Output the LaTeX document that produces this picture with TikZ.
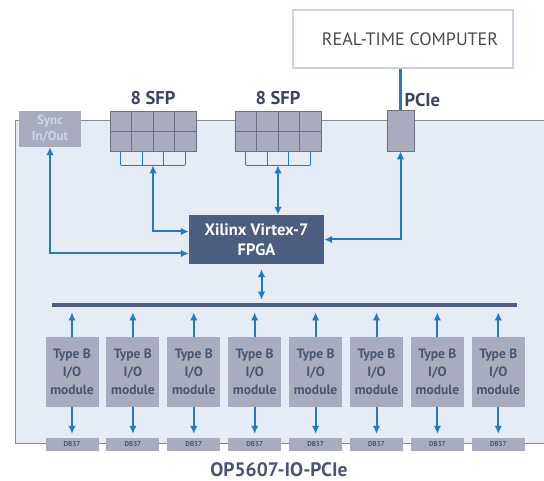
\documentclass[tikz,border=0pt]{standalone}
\usepackage{fontspec}
\setmainfont{PT Sans}
\usetikzlibrary{positioning,arrows.meta,calc}

\definecolor{boardfill}{HTML}{E6ECF5}
\definecolor{boardline}{HTML}{858A94}
\definecolor{modfill}{HTML}{A9ACBE}
\definecolor{modedge}{HTML}{6E7080}
\definecolor{modtext}{HTML}{4A5572}
\definecolor{fpgafill}{HTML}{4B5E80}
\definecolor{linkblue}{HTML}{1F7BC2}
\definecolor{pcframe}{HTML}{C8D4E6}
\definecolor{synctext}{HTML}{CDD4EC}

\tikzset{
  link/.style={linkblue, line width=2pt},
  arr/.style={link, -{Latex[length=8pt,width=7.5pt]}},
  darr/.style={link, {Latex[length=8pt,width=7.5pt]}-{Latex[length=8pt,width=7.5pt]}},
  title/.style={font=\bfseries\fontsize{18.5}{18.5}\selectfont, text=modtext!80!black, inner sep=0pt},
  sfpbox/.style={fill=modfill, draw=modedge, line width=0.6pt, minimum width=86pt, minimum height=40pt, inner sep=0pt},
  iomod/.style={fill=modfill, minimum width=53pt, minimum height=70pt, inner sep=0pt, align=center,
    font=\bfseries\fontsize{13.5}{18}\selectfont, text=modtext},
  dbbox/.style={fill=modfill, minimum width=53pt, minimum height=13pt, inner sep=0pt,
    font=\bfseries\fontsize{7}{7}\selectfont, text=modtext},
}

\begin{document}
\begin{tikzpicture}[x=1pt,y=-1pt]
\useasboundingbox (0,0) rectangle (544,481);

% board
\fill[boardfill] (15,120) rectangle (544,443);
\draw[boardline, line width=0.8pt] (544,120) -- (15,120) -- (15,443) -- (544,443);

% host side
\node[draw=pcframe, line width=1.5pt, fill=white, minimum width=220pt, minimum height=58pt,
  font=\fontsize{18}{18}\selectfont, text=black!70] (rtc) at (403,39) {\hspace*{14pt}REAL-TIME COMPUTER};
\node[fill=modfill, draw=modedge, line width=0.6pt, minimum width=27pt, minimum height=41pt, inner sep=0pt] (pcie) at (400.5,130.5) {};
\draw[link, line width=2.8pt] (rtc.south -| pcie) -- (pcie.north);
\node[title, anchor=south west] (pcielbl) at ([xshift=4pt,yshift=3pt]pcie.north) {PCIe};

% sync and SFP cages
\node[fill=modfill, minimum width=62pt, minimum height=36pt, inner sep=0pt, align=center,
  font=\bfseries\fontsize{13}{16}\selectfont, text=synctext] (sync) at (50,129) {Sync\\In/Out};
\foreach \n/\cx in {A/153,B/278} {
  \node[sfpbox] (sfp\n) at (\cx,131) {};
  \node[title, above=6pt of sfp\n] (sfp\n-lbl) {8 SFP};
  \draw[modedge, line width=0.8pt] (sfp\n.west) -- (sfp\n.east);
  \foreach \k in {1,2,3}
    \draw[modedge, line width=0.8pt] ($(sfp\n.north west)!\k/4!(sfp\n.north east)$) -- ($(sfp\n.south west)!\k/4!(sfp\n.south east)$);
  \foreach \k in {1,3,5,7}
    \draw[linkblue, line width=1.2pt] ($(sfp\n.south west)!\k/8!(sfp\n.south east)$) -- ++(0,14);
  \draw[linkblue, line width=1.2pt] ([yshift=-14pt]$(sfp\n.south west)!1/8!(sfp\n.south east)$) -- ([yshift=-14pt]$(sfp\n.south west)!7/8!(sfp\n.south east)$);
  \coordinate (br\n) at ([yshift=-14pt]sfp\n.south);
}

% FPGA
\node[fill=fpgafill, minimum width=135pt, minimum height=49pt, inner sep=0pt, align=center,
  font=\bfseries\fontsize{16.5}{20}\selectfont, text=white] (fpga) at (256.5,239.5) {Xilinx Virtex-7\\FPGA};

\draw[darr] (brA) |- ([yshift=8pt]fpga.west);
\draw[darr] (sync.south) |- ([yshift=-14pt]fpga.west);
\draw[darr] (brB) -- (brB |- fpga.north);
\draw[darr] (pcie.south) |- (fpga.east);

% bus
\node[fill=fpgafill, minimum width=465pt, minimum height=4.5pt, inner sep=0pt] (bus) at (284.5,305) {};
\draw[darr, shorten <=5pt, shorten >=3pt] ([xshift=5pt]fpga.south) -- ([xshift=5pt]fpga.south |- bus.north);

% I/O modules
\foreach \i in {1,...,8} {
  \pgfmathsetmacro{\cx}{72+60.9*(\i-1)}
  \node[iomod] (mod\i) at (\cx,372) {Type B\\I/O\\module};
  \node[dbbox] (db\i) at (\cx,444.5) {DB37};
  \draw[arr, shorten >=5pt] (mod\i.north) -- (mod\i.north |- bus.south);
  \draw[arr, shorten >=4pt] (mod\i.south) -- (db\i.north);
}

\node[font=\bfseries\fontsize{19.5}{19.5}\selectfont, text=modtext] (board) at (279,470) {OP5607-IO-PCIe};
\end{tikzpicture}
\end{document}
